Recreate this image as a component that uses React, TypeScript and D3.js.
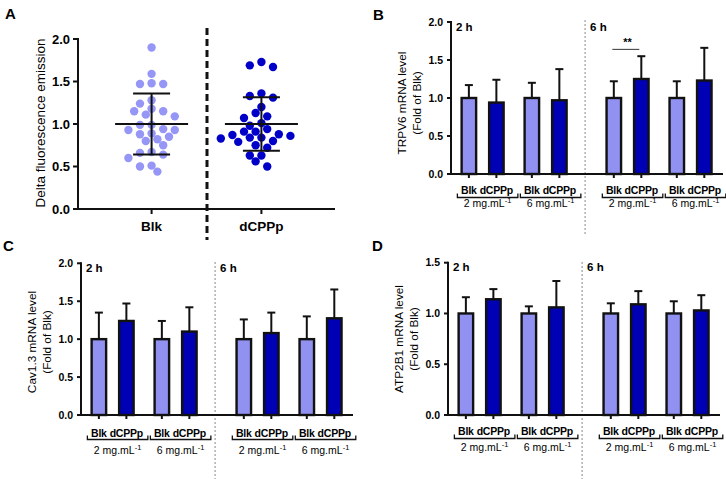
import React from 'react';
import * as d3 from 'd3';

// panel A: delta fluorescence, one value per dot
const scatterGroups = ['Blk', 'dCPPp'];
const blkValues = [1.90, 1.59, 1.47, 1.48, 1.47, 1.28, 1.24, 1.15, 1.15, 1.18, 1.09, 1.11, 0.99, 0.99, 0.93,
    0.94, 0.93, 0.89, 0.88, 0.85, 0.82, 0.80, 0.75, 0.67, 0.64, 0.66, 0.60, 0.51, 0.50, 0.44];
const dcppValues = [1.73, 1.67, 1.69, 1.31, 1.36, 1.33, 1.20, 1.13, 1.09, 1.07, 0.98, 1.01, 0.94, 0.91, 0.88,
    0.91, 0.86, 0.84, 0.83, 0.84, 0.87, 0.80, 0.79, 0.75, 0.72, 0.63, 0.63, 0.56, 0.50];
const scatterMean = [1.0, 1.0];
const scatterSd = [0.36, 0.315];
const scatterTicks = [0, 0.5, 1.0, 1.5, 2.0];

// panels B-D: order is time, concentration, treatment
const times = ['2 h', '6 h'];
const concs = ['2 mg.mL', '6 mg.mL'];
const treatments = ['Blk', 'dCPPp'];

const trpv6Mean = [1.00, 0.94, 1.00, 0.97, 1.00, 1.25, 1.00, 1.23];
const trpv6Sd = [0.17, 0.30, 0.20, 0.41, 0.22, 0.30, 0.22, 0.43];
const cavMean = [1.00, 1.24, 1.00, 1.10, 1.00, 1.08, 1.00, 1.275];
const cavSd = [0.35, 0.23, 0.24, 0.32, 0.26, 0.27, 0.30, 0.38];
const atpMean = [1.00, 1.14, 1.00, 1.06, 1.00, 1.09, 1.00, 1.03];
const atpSd = [0.16, 0.10, 0.07, 0.26, 0.10, 0.13, 0.12, 0.15];
const ticks2 = [0, 0.5, 1.0, 1.5, 2.0];
const ticks15 = [0, 0.5, 1.0, 1.5];

const LIGHT = '#9191f2';
const DARK = '#0000b4';
const FONT = "Arial, 'Liberation Sans', sans-serif";
const fmt = d3.format('.1f');

function swarm(values: number[], y: d3.ScaleLinear<number, number>, r: number, step: number) {
    // greedy beeswarm, biggest values first
    const placed: { dx: number, y: number }[] = [];
    const sorted = [...values].sort((a, b) => b - a);
    sorted.forEach(v => {
        const py = y(v);
        for (let k = 0; k < 30; k++) {
            const opts = k === 0 ? [0] : [-k * step, k * step];
            const ok = opts.find(dx => placed.every(p => (p.dx - dx) ** 2 + (p.y - py) ** 2 >= (2 * r) ** 2 * 0.92));
            if (ok !== undefined) {
                placed.push({ dx: ok, y: py });
                return;
            }
        }
    });
    return placed;
}

function ScatterPanel() {
    const x = d3.scalePoint().domain(scatterGroups).range([78, 335]).padding(0.67);
    const y = d3.scaleLinear().domain([0, 2]).range([209, 39]);
    const all = [blkValues, dcppValues];
    const colors = ['#9696f6', '#0000c8'];
    return (
        <g>
            <text x={5} y={19} fontSize={15} fontWeight="bold" fontFamily={FONT}>A</text>
            {all.map((vals, gi) => {
                const cx = x(scatterGroups[gi])!;
                return swarm(vals, y, 4.2, 5.8).map((p, i) => (
                    <circle key={gi + '-' + i} cx={cx + p.dx} cy={p.y} r={4.2} fill={colors[gi]} />
                ));
            })}
            {scatterGroups.map((g, gi) => {
                const cx = x(g)!;
                const m = scatterMean[gi], s = scatterSd[gi];
                return (
                    <g key={g} stroke="#111" strokeWidth={2}>
                        <line x1={cx - 36.5} x2={cx + 36.5} y1={y(m)} y2={y(m)} />
                        <line x1={cx} x2={cx} y1={y(m + s)} y2={y(m - s)} />
                        <line x1={cx - 18.5} x2={cx + 18.5} y1={y(m + s)} y2={y(m + s)} />
                        <line x1={cx - 18.5} x2={cx + 18.5} y1={y(m - s)} y2={y(m - s)} />
                    </g>
                );
            })}
            <line x1={207} x2={207} y1={28} y2={240} stroke="#111" strokeWidth={3} strokeDasharray="7,4" />
            <g stroke="#111" strokeWidth={2}>
                <line x1={78} x2={78} y1={38} y2={210} />
                <line x1={77} x2={335} y1={209} y2={209} />
                {scatterTicks.map(t => <line key={t} x1={73} x2={78} y1={y(t)} y2={y(t)} />)}
                {scatterGroups.map(g => <line key={g} x1={x(g)} x2={x(g)} y1={209} y2={214} />)}
            </g>
            {scatterTicks.map(t => (
                <text key={t} x={70} y={y(t)} dy="0.35em" textAnchor="end" fontSize={13} fontWeight="bold"
                      fontFamily={FONT}>{fmt(t)}</text>
            ))}
            {scatterGroups.map(g => (
                <text key={g} x={x(g)} y={231} textAnchor="middle" fontSize={13.5} fontWeight="bold"
                      fontFamily={FONT}>{g}</text>
            ))}
            <text transform="translate(45,123) rotate(-90)" textAnchor="middle" fontSize={13.5}
                  fontFamily={FONT}>Delta fluorescence emission</text>
        </g>
    );
}

type BarProps = {
    letter: string, lx: number, ly: number,
    ax: number, top: number, bottom: number, yMax: number, ticks: number[],
    means: number[], sds: number[], title: string,
    dividerTop: number, dividerBottom: number,
    labelOff: number, bracketOff: number, concOff: number, titleY: number,
    sig?: boolean
};

function BarPanel(p: BarProps) {
    const width = 272;
    const y = d3.scaleLinear().domain([0, p.yMax]).range([p.bottom, p.top]);
    // one unit is the gap between the two bars of a pair
    const x = d3.scaleLinear().domain([-0.65, 9.24]).range([p.ax, p.ax + width]);
    const slot = (t: number, c: number, k: number) => t * 5.27 + c * 2.29 + k;
    const bars: { t: number, c: number, k: number, i: number }[] = [];
    times.forEach((_, t) => concs.forEach((_, c) => treatments.forEach((_, k) => {
        bars.push({ t, c, k, i: bars.length });
    })));
    const bw = 14.5;
    const divX = x((slot(0, 1, 1) + slot(1, 0, 0)) / 2) - 1.5;
    return (
        <g fontFamily={FONT}>
            <text x={p.lx} y={p.ly} fontSize={15} fontWeight="bold">{p.letter}</text>
            <line x1={divX} x2={divX} y1={p.dividerTop} y2={p.dividerBottom} stroke="#888" strokeWidth={1}
                  strokeDasharray="2,2" />
            {bars.map(b => {
                const cx = x(slot(b.t, b.c, b.k));
                const m = p.means[b.i], s = p.sds[b.i];
                return (
                    <g key={b.i} stroke="#111">
                        <line x1={cx} x2={cx} y1={y(m)} y2={y(m + s)} strokeWidth={2} />
                        <line x1={cx - 4} x2={cx + 4} y1={y(m + s)} y2={y(m + s)} strokeWidth={2} />
                        <rect x={cx - bw / 2} y={y(m)} width={bw} height={y(0) - y(m)}
                              fill={b.k === 0 ? LIGHT : DARK} strokeWidth={2.4} />
                        <line x1={cx} x2={cx} y1={p.bottom} y2={p.bottom + 4} strokeWidth={2} />
                    </g>
                );
            })}
            <g stroke="#111" strokeWidth={2}>
                <line x1={p.ax} x2={p.ax} y1={p.top - 1} y2={p.bottom + 1} />
                <line x1={p.ax - 1} x2={p.ax + width} y1={p.bottom} y2={p.bottom} />
                {p.ticks.map(t => <line key={t} x1={p.ax - 4} x2={p.ax} y1={y(t)} y2={y(t)} />)}
            </g>
            {p.ticks.map(t => (
                <text key={t} x={p.ax - 8} y={y(t)} dy="0.35em" textAnchor="end" fontSize={10.5}
                      fontWeight="bold">{fmt(t)}</text>
            ))}
            {times.map((tm, t) => (
                <text key={tm} x={t === 0 ? p.ax + 5 : divX + 5} y={p.top + 8.5} fontSize={11.5}
                      fontWeight="bold">{tm}</text>
            ))}
            {bars.map(b => (
                <text key={'l' + b.i} x={x(slot(b.t, b.c, b.k))} y={p.bottom + p.labelOff} textAnchor="middle"
                      fontSize={10.5} fontWeight="bold" letterSpacing={-0.2}>{treatments[b.k]}</text>
            ))}
            {times.map((_, t) => concs.map((cn, c) => {
                const x0 = x(slot(t, c, 0)) - 11.5;
                const x1 = x(slot(t, c, 1)) + 21.5;
                const by = p.bottom + p.bracketOff;
                return (
                    <g key={t + '-' + c}>
                        <path d={`M${x0},${by - 4}V${by}H${x1}V${by - 4}`} fill="none" stroke="#111" strokeWidth={1.3} />
                        <text x={(x0 + x1) / 2} y={p.bottom + p.concOff} textAnchor="middle" fontSize={10.5}>
                            {cn}<tspan fontSize={7.5} dy={-4.5}>-1</tspan>
                        </text>
                    </g>
                );
            }))}
            <text transform={`translate(${p.ax - 45},${p.titleY}) rotate(-90)`} textAnchor="middle"
                  fontSize={11.8}>{p.title + ' mRNA level'}</text>
            <text transform={`translate(${p.ax - 30},${p.titleY}) rotate(-90)`} textAnchor="middle"
                  fontSize={11.8}>(Fold of Blk)</text>
            {p.sig && (() => {
                const xa = x(slot(1, 0, 0)), xb = x(slot(1, 0, 1));
                return (
                    <g>
                        <line x1={xa - 1.5} x2={xb - 2} y1={y(1.64)} y2={y(1.64)} stroke="#333" strokeWidth={1} />
                        <text x={(xa + xb) / 2} y={y(1.64) - 3} textAnchor="middle" fontSize={11}
                              fontWeight="bold">**</text>
                    </g>
                );
            })()}
        </g>
    );
}

export default function App() {
    return (
        <svg width={726} height={479} style={{ position: 'absolute', left: 0, top: 0, background: '#fff' }}>
            <rect width={726} height={479} fill="#fff" />
            <ScatterPanel />
            <BarPanel letter="B" lx={373} ly={20} ax={451} top={22} bottom={174} yMax={2} ticks={ticks2}
                      means={trpv6Mean} sds={trpv6Sd} title="TRPV6" dividerTop={20} dividerBottom={236}
                      labelOff={19.5} bracketOff={23.5} concOff={33} titleY={103} sig />
            <BarPanel letter="C" lx={3} ly={251} ax={81} top={263.3} bottom={415} yMax={2} ticks={ticks2}
                      means={cavMean} sds={cavSd} title="Cav1.3" dividerTop={262} dividerBottom={479}
                      labelOff={21.5} bracketOff={24.5} concOff={39} titleY={342} />
            <BarPanel letter="D" lx={372} ly={251} ax={448} top={262.7} bottom={415} yMax={1.5} ticks={ticks15}
                      means={atpMean} sds={atpSd} title="ATP2B1" dividerTop={262} dividerBottom={479}
                      labelOff={19.5} bracketOff={23.5} concOff={36} titleY={339} />
        </svg>
    );
}
